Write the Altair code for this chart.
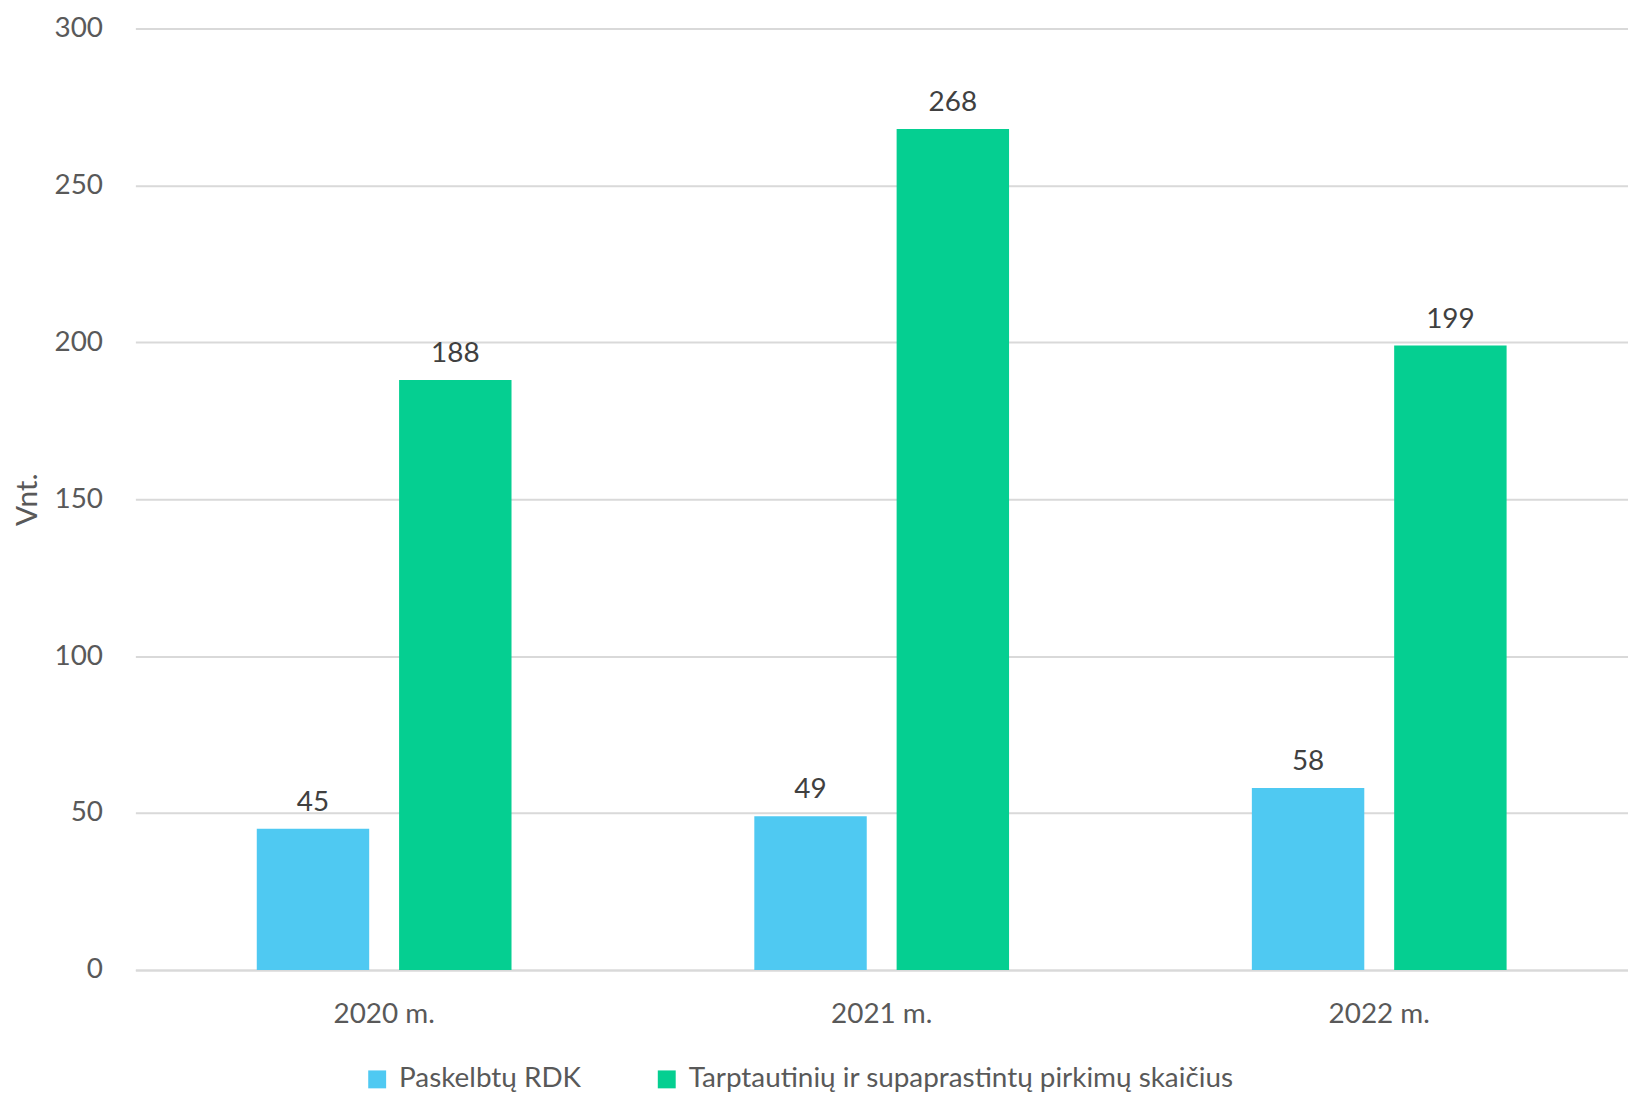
import altair as alt
import pandas as pd

years = ["2020 m.", "2021 m.", "2022 m."]
series = ["Paskelbtų RDK", "Tarptautinių ir supaprastintų pirkimų skaičius"]
rdk = [45, 49, 58]
tarpt = [188, 268, 199]
colors = ["#4FC9F2", "#05CF91"]
y_ticks = [0, 50, 100, 150, 200, 250, 300]

rows = []
for i, y in enumerate(years):
    rows.append({"Metai": y, "Serija": series[0], "Reikšmė": rdk[i]})
    rows.append({"Metai": y, "Serija": series[1], "Reikšmė": tarpt[i]})
df = pd.DataFrame(rows)

FONT = "Lato"
TXT = "#595959"
H = 946

base = alt.Chart(df).encode(
    x=alt.X(
        "Metai:N",
        sort=years,
        scale=alt.Scale(paddingInner=0.488, paddingOuter=0.244),
        axis=alt.Axis(
            title=None,
            labelAngle=0,
            labelFontSize=28,
            labelColor=TXT,
            labelFont=FONT,
            labelPadding=31,
            ticks=False,
            domain=True,
            domainColor="#D9D9D9",
            domainWidth=2,
        ),
    ),
    xOffset=alt.XOffset(
        "Serija:N", sort=series, scale=alt.Scale(paddingInner=0.21, paddingOuter=0)
    ),
    y=alt.Y(
        "Reikšmė:Q",
        scale=alt.Scale(domain=[0, 300], nice=False),
        axis=alt.Axis(
            values=y_ticks,
            title="Vnt.",
            titleFont=FONT,
            titleFontSize=30,
            titleFontWeight="normal",
            titleColor=TXT,
            titleX=-108,
            titleY=H / 2,
            titleAngle=270,
            titleAlign="center",
            titleBaseline="middle",
            labelFontSize=28,
            labelColor=TXT,
            labelFont=FONT,
            labelPadding=33,
            ticks=False,
            domain=False,
            grid=True,
            gridColor="#D9D9D9",
            gridWidth=2,
        ),
    ),
)

bars = base.mark_bar().encode(
    color=alt.Color(
        "Serija:N",
        sort=series,
        scale=alt.Scale(domain=series, range=colors),
        legend=alt.Legend(
            title=None,
            orient="none",
            legendX=229,
            legendY=1042,
            direction="horizontal",
            symbolType="square",
            symbolSize=324,
            symbolStrokeWidth=0,
            labelFontSize=28,
            labelFont=FONT,
            labelColor=TXT,
            labelOffset=8,
            labelLimit=0,
            columnPadding=72,
        ),
    )
)

labels = base.mark_text(
    baseline="alphabetic", dy=-18, fontSize=28, font=FONT, color="#404040"
).encode(text="Reikšmė:Q")

chart = (
    alt.layer(bars, labels)
    .properties(
        width=1500,
        height=H,
        autosize="none",
        padding={"left": 128, "top": 18, "right": 0, "bottom": 122},
    )
    .configure_view(stroke=None)
)

chart.save("out.html", embed_options={"renderer": "svg", "actions": False})
